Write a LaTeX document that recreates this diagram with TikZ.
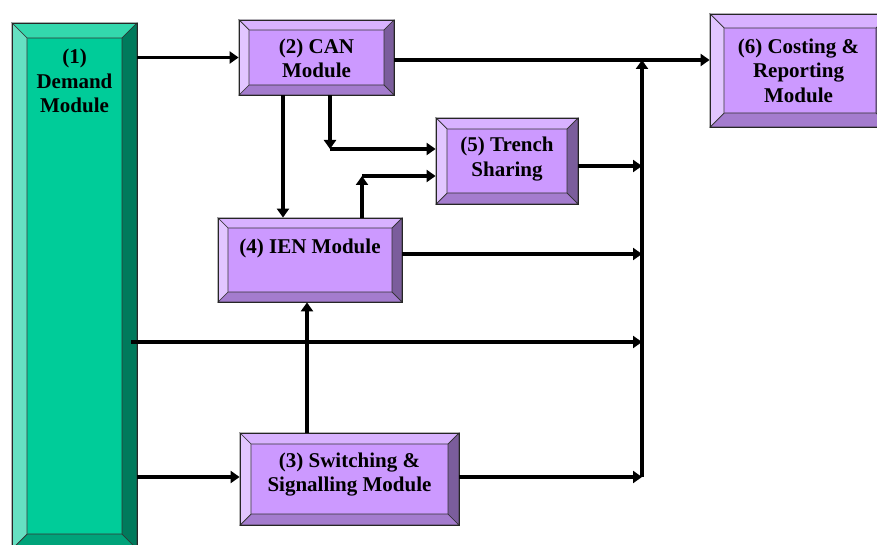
\documentclass[tikz,border=0pt]{standalone}
\usepackage{fontspec}
\setmainfont{Liberation Serif}
\usetikzlibrary{arrows.meta,calc,fit}

% palettes: face, top, left, bottom, right
\definecolor{pface}{HTML}{CC99FF}
\definecolor{ptop}{HTML}{D8B2FF}
\definecolor{pleft}{HTML}{E2C6FF}
\definecolor{pbottom}{HTML}{A47CCE}
\definecolor{pright}{HTML}{7B5D9C}
\definecolor{gface}{HTML}{00CC99}
\definecolor{gtop}{HTML}{33D8AD}
\definecolor{gleft}{HTML}{66E0C2}
\definecolor{gbottom}{HTML}{00A37A}
\definecolor{gright}{HTML}{007A5C}

\tikzset{
  edgeline/.style={draw=black!80, line width=0.7pt},
  arr/.style={line width=3.8pt, -{Triangle[length=9pt,width=12pt]}},
  label/.style={font=\bfseries\fontsize{21}{24.5}\selectfont, align=center, inner sep=0pt},
  frame/.style={inner sep=0pt, draw=black!85, line width=0.8pt}
}

% bevelled module box: name, x1, y1, x2, y2, bevel, palette prefix
\newcommand{\modbox}[7]{%
  \path[fill=#7face] (#2,#3) rectangle (#4,#5);
  \path[fill=#7top, edgeline] (#2,#3) -- (#4,#3) -- (#4-#6,#3+#6) -- (#2+#6,#3+#6) -- cycle;
  \path[fill=#7bottom, edgeline] (#2,#5) -- (#4,#5) -- (#4-#6,#5-#6) -- (#2+#6,#5-#6) -- cycle;
  \path[fill=#7left, edgeline] (#2,#3) -- (#2+#6,#3+#6) -- (#2+#6,#5-#6) -- (#2,#5) -- cycle;
  \path[fill=#7right, edgeline] (#4,#3) -- (#4-#6,#3+#6) -- (#4-#6,#5-#6) -- (#4,#5) -- cycle;
  \node[frame, fit={(#2,#3) (#4,#5)}] (#1) {};
}

\begin{document}
\begin{tikzpicture}[x=1pt, y=-1pt]
\clip (0,0) rectangle (877,545);
\fill[white] (0,0) rectangle (877,545);

% modules
\modbox{n1}{12}{23}{137}{549}{15}{g}
\modbox{n2}{239}{20}{394}{95}{10}{p}
\modbox{n5}{436}{118}{578}{204}{11}{p}
\modbox{n4}{218}{218}{402}{302}{10}{p}
\modbox{n3}{240}{433}{459}{525}{11}{p}
\modbox{n6}{710}{14}{890}{127}{14}{p}

\node[label] (t1) at (74.5,81) {(1)\\Demand\\Module};
\node[label] (t2) at (316.5,58.5) {(2) CAN\\Module};
\node[label] (t5) at (507,159) {(5) Trench\\Sharing};
\node[label] (t4) at (310,248) {(4) IEN Module};
\node[label] (t3) at (349.5,474.5) {(3) Switching \&\\Signalling Module};
\node[label] (t6) at (798.5,70.5) {(6) Costing \&\\Reporting\\Module};

% collector bus and its junctions
\coordinate (busTop) at (642,60);
\coordinate (b5) at (642,166);
\coordinate (b4) at (642,254);
\coordinate (b1) at (642,342);
\coordinate (b3) at (642,477);
\coordinate (v24) at (283,150);
\coordinate (v34) at (307,380);
\coordinate (k25) at (330,149);
\coordinate (k45) at (362,176);

\draw[arr] (b3) -- (busTop);
\draw[arr] (n2.east |- busTop) -- (busTop -| n6.west);

% module connections
\draw[arr] (n1.east |- n2.west) -- (n2.west);
\draw[arr] (n1.east |- b3) -- (n3.west |- b3);
\draw[arr] ($(n1.east |- b1)+(-6,0)$) -- (b1);
\draw[arr] (n2.south -| v24) -- (n4.north -| v24);
\draw[arr] (n2.south -| k25) -- (k25);
\draw[arr] (k25) -- (n5.west |- k25);
\draw[arr] (n4.north -| k45) -- (k45);
\draw[arr] (k45) -- (n5.west |- k45);
\draw[arr] (n3.north -| v34) -- (n4.south -| v34);
\draw[arr] (n5.east |- b5) -- (b5);
\draw[arr] (n4.east |- b4) -- (b4);
\draw[arr] (n3.east |- b3) -- (b3);
\end{tikzpicture}
\end{document}
